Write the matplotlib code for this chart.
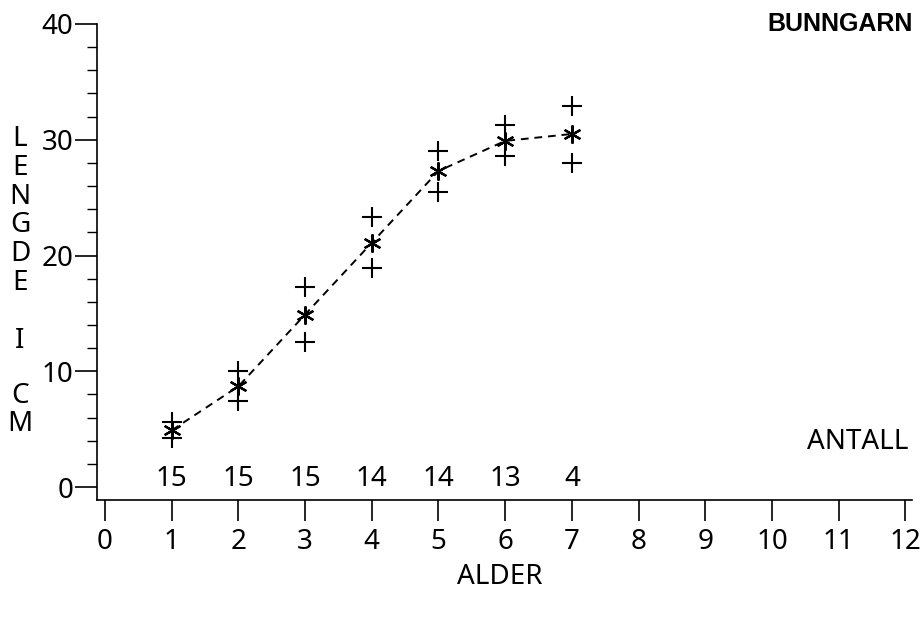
import matplotlib.pyplot as plt
from matplotlib.ticker import MultipleLocator

plt.rcParams['font.family'] = ['Noto Sans', 'DejaVu Sans']

# alder (år), gjennomsnittslengde og spredning (cm), antall fisk
alder = [1, 2, 3, 4, 5, 6, 7]
lengde_snitt = [4.9, 8.7, 14.9, 21.1, 27.3, 29.9, 30.5]
lengde_hoy = [5.6, 10.0, 17.3, 23.3, 29.0, 31.3, 32.9]
lengde_lav = [4.2, 7.4, 12.5, 18.9, 25.5, 28.6, 28.0]
antall = [15, 15, 15, 14, 14, 13, 4]

x_ticks = list(range(0, 13))
y_ticks = [0, 10, 20, 30, 40]

W, H = 922, 617
fs = 20
fig = plt.figure(figsize=(W / 100, H / 100), dpi=100)
ax = fig.add_axes([97 / W, (H - 500) / H, 815 / W, 476 / H])

ax.plot(alder, lengde_snitt, color='black', linestyle=(0, (4, 3)), linewidth=1.4,
        marker=(6, 2, 0), markersize=13, markeredgewidth=1.6, zorder=3)
for serie in (lengde_hoy, lengde_lav):
    ax.plot(alder, serie, linestyle='none', marker='+', markersize=15,
            markeredgewidth=1.5, color='black')

for a, n in zip(alder, antall):
    ax.text(a, 0.7, str(n), ha='center', va='center', fontsize=fs)

ax.set_xlim(-0.12, 12.1)
ax.set_ylim(-1.12, 40)
ax.set_xticks(x_ticks)
ax.set_yticks(y_ticks)
ax.yaxis.set_minor_locator(MultipleLocator(2))
ax.tick_params(axis='x', direction='out', length=15, width=1.2, labelsize=fs, pad=5)
ax.tick_params(axis='y', which='major', direction='out', length=16, width=1.2,
               labelsize=fs, pad=1)
ax.tick_params(axis='y', which='minor', direction='out', length=7, width=1)
for side in ['top', 'right']:
    ax.spines[side].set_visible(False)
for side in ['left', 'bottom']:
    ax.spines[side].set_linewidth(1.2)

fig.text(500 / W, 1 - 577 / H, 'ALDER', ha='center', va='center', fontsize=fs)
fig.text(908 / W, 1 - 442 / H, 'ANTALL', ha='right', va='center', fontsize=fs)
fig.text(913 / W, 1 - 24 / H, 'BUNNGARN', ha='right', va='center',
         fontsize=18, fontweight='bold', family=['Liberation Sans', 'DejaVu Sans'])

# y-aksetittel skrevet loddrett, en bokstav per linje
fig.text(20 / W, 1 - 211 / H, '\n'.join('LENGDE'), ha='center', va='center',
         fontsize=fs, linespacing=1.03)
fig.text(20 / W, 1 - 341 / H, 'I', ha='center', va='center', fontsize=fs)
fig.text(20 / W, 1 - 410 / H, 'C\nM', ha='center', va='center',
         fontsize=fs, linespacing=1.0)

fig.savefig('out.png', dpi=100)
